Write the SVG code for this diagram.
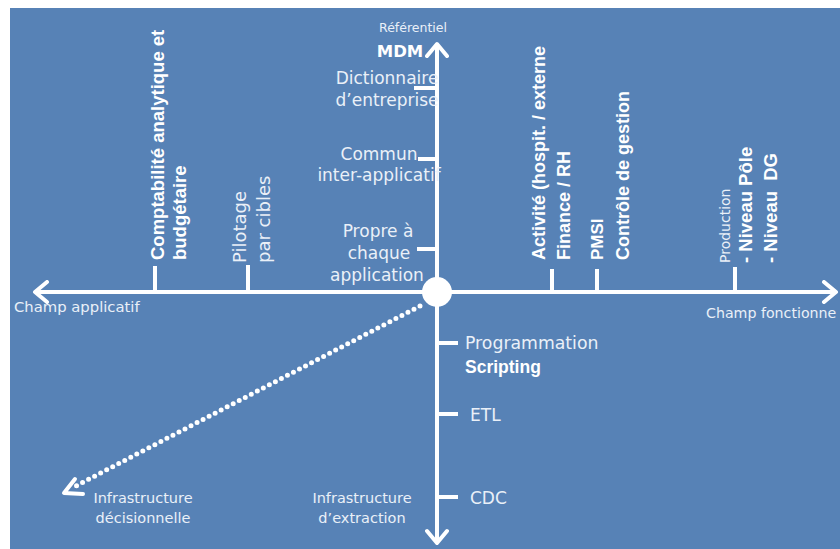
<svg xmlns="http://www.w3.org/2000/svg" width="840" height="549" viewBox="0 0 840 549">
<defs>
<style>
.ax{stroke:#fff;stroke-width:4;fill:none;stroke-linecap:butt}
.tk{stroke:#fff;stroke-width:4;fill:none}
.dot{stroke:#fff;stroke-width:5;fill:none;stroke-linecap:round;stroke-dasharray:0 6.8}
.t{font-family:"DejaVu Sans",Verdana,sans-serif;fill:#eaf0f8}
.b{font-family:"Liberation Sans",Arial,sans-serif;font-weight:bold;fill:#fff}
.m{text-anchor:middle}
</style>
<marker id="chev" viewBox="0 0 24 24" refX="20" refY="12" markerWidth="24" markerHeight="24" markerUnits="userSpaceOnUse" orient="auto">
<path d="M8,2 L20,12 L8,22" fill="none" stroke="#fff" stroke-width="4" stroke-linecap="round" stroke-linejoin="round" stroke-dasharray="none"/>
</marker>
</defs>
<rect x="0" y="0" width="840" height="549" fill="#fff"/>
<rect x="10" y="8" width="830" height="541" fill="#5782b6"/>

<g id="connectors">
<line class="ax" x1="437" y1="292" x2="836" y2="292" marker-end="url(#chev)"/>
<line class="ax" x1="437" y1="292" x2="35" y2="292" marker-end="url(#chev)"/>
<line class="ax" x1="437" y1="292" x2="437" y2="44" marker-end="url(#chev)"/>
<line class="ax" x1="437" y1="292" x2="437" y2="543" marker-end="url(#chev)"/>
<line class="dot" x1="420" y1="306" x2="72" y2="488"/>
<path d="M75,479 L64,493 L83,494" fill="none" stroke="#fff" stroke-width="4" stroke-linecap="round" stroke-linejoin="round"/>
<line class="tk" x1="155" y1="266" x2="155" y2="292"/>
<line class="tk" x1="248" y1="265" x2="248" y2="292"/>
<line class="tk" x1="552" y1="269" x2="552" y2="292"/>
<line class="tk" x1="597" y1="269" x2="597" y2="292"/>
<line class="tk" x1="735" y1="267" x2="735" y2="292"/>
<line class="tk" x1="414" y1="88" x2="437" y2="88"/>
<line class="tk" x1="418" y1="159" x2="437" y2="159"/>
<line class="tk" x1="417" y1="249" x2="437" y2="249"/>
<line class="tk" x1="437" y1="343" x2="458" y2="343"/>
<line class="tk" x1="437" y1="414" x2="458" y2="414"/>
<line class="tk" x1="437" y1="497" x2="458" y2="497"/>
</g>

<g id="origin"><circle cx="437" cy="292" r="15" fill="#fff"/></g>

<g id="referentiel">
<text class="t m" x="413" y="32" font-size="12.5">Référentiel</text>
<text class="m" x="400" y="57" font-size="16.5" font-family="DejaVu Sans, sans-serif" font-weight="bold" fill="#fff">MDM</text>
</g>
<g id="dictionnaire">
<text class="t m" x="387" y="84" font-size="17">Dictionnaire</text>
<text class="t m" x="387" y="106" font-size="17">d’entreprise</text>
</g>
<g id="commun">
<text class="t m" x="379" y="160" font-size="17">Commun</text>
<text class="t m" x="379" y="181" font-size="17">inter-applicatif</text>
</g>
<g id="propre">
<text class="t m" x="378" y="237" font-size="17">Propre à</text>
<text class="t m" x="379" y="259" font-size="17">chaque</text>
<text class="t m" x="377" y="281" font-size="17">application</text>
</g>

<g id="champ-applicatif"><text class="t" x="14" y="312" font-size="14.8">Champ applicatif</text></g>
<g id="champ-fonctionnel"><text class="t" x="706" y="318" font-size="14.2">Champ fonctionne</text></g>

<g id="comptabilite">
<text class="b" transform="translate(164,260) rotate(-90)" font-size="18.5">Comptabilité analytique et</text>
<text class="b" transform="translate(186,260) rotate(-90)" font-size="18.5">budgétaire</text>
</g>
<g id="pilotage">
<text class="t" transform="translate(246,263) rotate(-90)" font-size="18">Pilotage</text>
<text class="t" transform="translate(270,263) rotate(-90)" font-size="18">par cibles</text>
</g>
<g id="activite">
<text class="b" transform="translate(545,260) rotate(-90)" font-size="18">Activité (hospit. / externe</text>
<text class="b" transform="translate(570,260) rotate(-90)" font-size="18">Finance / RH</text>
</g>
<g id="pmsi">
<text class="b" transform="translate(603,260) rotate(-90)" font-size="17">PMSI</text>
<text class="b" transform="translate(629,260) rotate(-90)" font-size="18">Contrôle de gestion</text>
</g>
<g id="production">
<text class="t" transform="translate(730,263) rotate(-90)" font-size="14">Production</text>
<text class="b" transform="translate(752,263) rotate(-90)" font-size="18.5">- Niveau Pôle</text>
<text class="b" transform="translate(777,263) rotate(-90)" font-size="18.5" xml:space="preserve">- Niveau  DG</text>
</g>

<g id="programmation">
<text class="t" x="465" y="349" font-size="17.3">Programmation</text>
<text class="b" x="465" y="373" font-size="17.5">Scripting</text>
</g>
<g id="etl"><text class="t" x="470" y="421" font-size="17">ETL</text></g>
<g id="cdc"><text class="t" x="470" y="504" font-size="17">CDC</text></g>
<g id="infra-extraction">
<text class="t m" x="362" y="503" font-size="14.5">Infrastructure</text>
<text class="t m" x="362" y="523" font-size="14.5">d’extraction</text>
</g>
<g id="infra-decisionnelle">
<text class="t m" x="143" y="503" font-size="14.5">Infrastructure</text>
<text class="t m" x="143" y="523" font-size="14.5">décisionnelle</text>
</g>
</svg>
